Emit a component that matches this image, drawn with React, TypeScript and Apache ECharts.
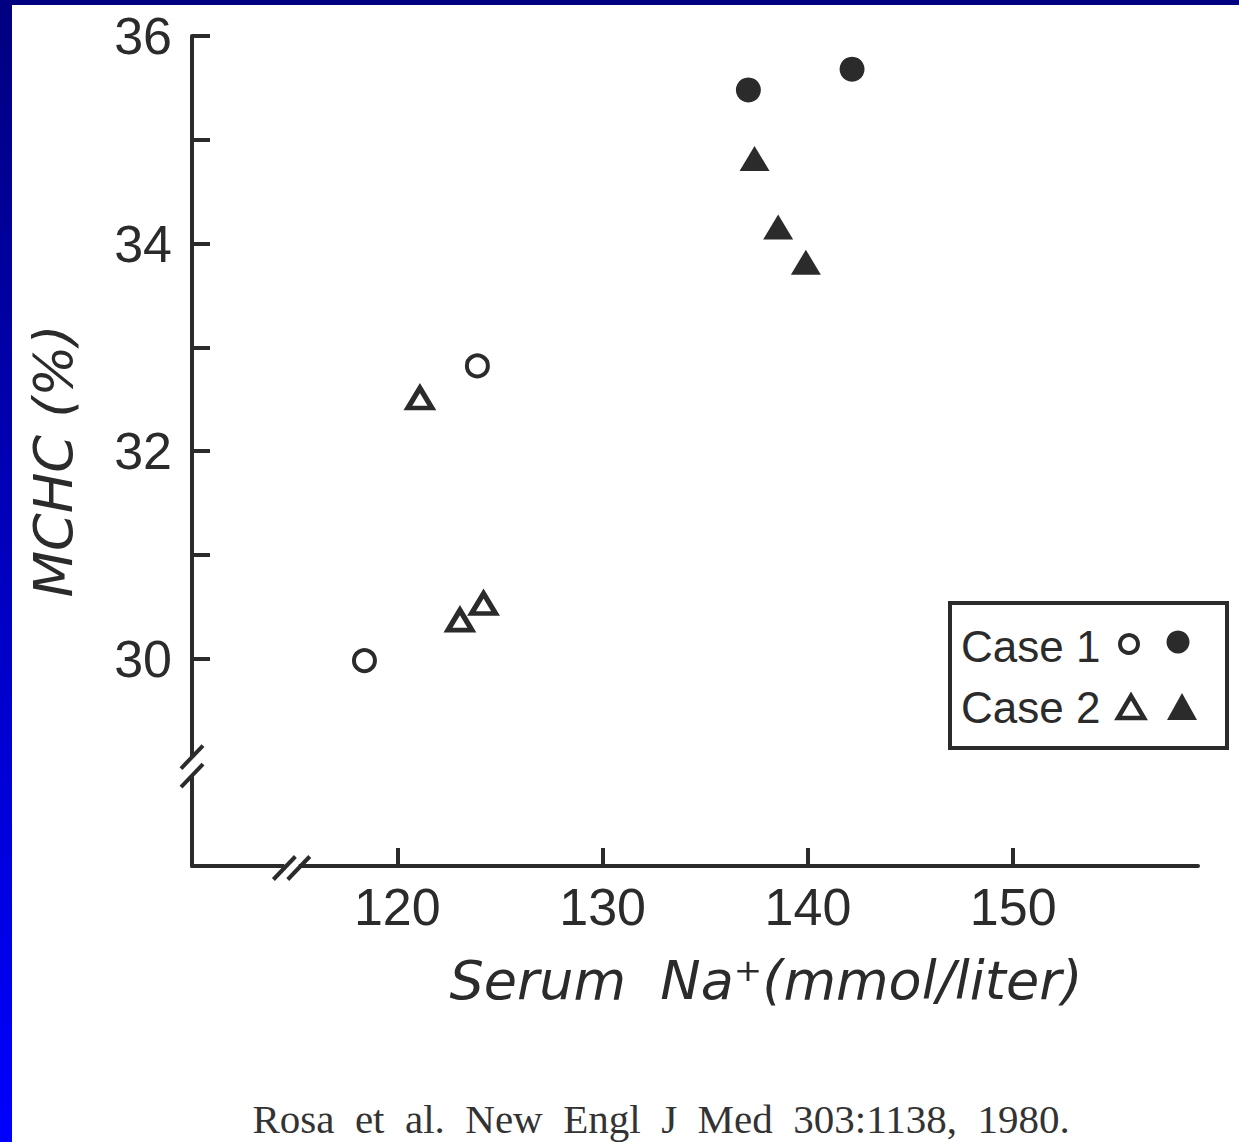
import React, { useEffect, useRef } from "react";
import * as echarts from "echarts";

// ---- data ----
const xLabelValues = [120, 130, 140, 150];
const yLabelValues = [30, 32, 34, 36];
const yTickValues = [30, 31, 32, 33, 34, 35, 36];
const case1Open: number[][] = [
  [118.4, 29.98],
  [123.9, 32.82],
];
const case1Filled: number[][] = [
  [137.1, 35.48],
  [142.15, 35.68],
];
const case2Open: number[][] = [
  [121.1, 32.51],
  [123.05, 30.37],
  [124.2, 30.53],
];
const case2Filled: number[][] = [
  [137.4, 34.82],
  [138.55, 34.16],
  [139.9, 33.82],
];

const INK = "#2b2b2b";
const LABEL_FONT = "'Liberation Sans', Arial, sans-serif";
const ITALIC_FONT = "'DejaVu Sans', sans-serif";

export default function App() {
  const ref = useRef<HTMLDivElement>(null);

  useEffect(() => {
    if (!ref.current) return;
    const chart = echarts.init(ref.current, undefined, { renderer: "svg" });
    const axisLine = { show: true, onZero: false, lineStyle: { color: INK, width: 4 } };
    const axisTickBase = { show: true, inside: true, length: 18, lineStyle: { color: INK, width: 4 } };
    const labelBase = { fontSize: 52, fontFamily: LABEL_FONT, color: INK };

    chart.setOption({
      animation: false,
      backgroundColor: "transparent",
      grid: { left: 192, top: 36, width: 1006, height: 830 },
      xAxis: {
        type: "value",
        min: 110,
        max: 159,
        axisLine,
        axisTick: { ...axisTickBase, customValues: xLabelValues },
        axisLabel: { ...labelBase, margin: 15, customValues: xLabelValues },
        splitLine: { show: false },
      },
      yAxis: {
        type: "value",
        min: 28,
        max: 36,
        axisLine,
        axisTick: { ...axisTickBase, customValues: yTickValues },
        axisLabel: { ...labelBase, margin: 20, customValues: yLabelValues },
        splitLine: { show: false },
      },
      series: [
        {
          name: "Case 1 (open)",
          type: "scatter",
          data: case1Open,
          symbol: "circle",
          symbolSize: 21,
          itemStyle: { color: "#ffffff", borderColor: INK, borderWidth: 4, opacity: 1 },
          emphasis: { disabled: true },
        },
        {
          name: "Case 1 (filled)",
          type: "scatter",
          data: case1Filled,
          symbol: "circle",
          symbolSize: 25,
          itemStyle: { color: INK, opacity: 1 },
          emphasis: { disabled: true },
        },
        {
          name: "Case 2 (open)",
          type: "scatter",
          data: case2Open,
          symbol: "triangle",
          symbolSize: [24, 20],
          itemStyle: { color: "#ffffff", borderColor: INK, borderWidth: 5, opacity: 1 },
          emphasis: { disabled: true },
        },
        {
          name: "Case 2 (filled)",
          type: "scatter",
          data: case2Filled,
          symbol: "triangle",
          symbolSize: [30, 25],
          itemStyle: { color: INK, opacity: 1 },
          emphasis: { disabled: true },
        },
      ],
    });

    const px = (x: number, y: number) =>
      chart.convertToPixel({ gridIndex: 0 }, [x, y]) as number[];

    const slash = (cx: number, cy: number) => ({
      type: "line",
      z: 101,
      shape: { x1: cx - 11, y1: cy + 11.5, x2: cx + 11, y2: cy - 11.5 },
      style: { stroke: INK, lineWidth: 4 },
    });

    const yb1 = px(110, 29.05);
    const yb2 = px(110, 28.87);
    const xb1 = px(114.5, 28);
    const xb2 = px(115.2, 28);

    chart.setOption({
      graphic: [
        // y-axis break
        {
          type: "rect",
          z: 100,
          shape: { x: yb1[0] - 7, y: yb1[1], width: 14, height: yb2[1] - yb1[1] },
          style: { fill: "#ffffff" },
        },
        slash(yb1[0], yb1[1]),
        slash(yb2[0], yb2[1]),
        // x-axis break
        {
          type: "rect",
          z: 100,
          shape: { x: xb1[0], y: xb1[1] - 7, width: xb2[0] - xb1[0], height: 14 },
          style: { fill: "#ffffff" },
        },
        slash(xb1[0], xb1[1] + 2),
        slash(xb2[0], xb2[1] + 2),
        // axis titles
        {
          type: "text",
          z: 100,
          x: 53,
          y: 461,
          rotation: Math.PI / 2,
          style: {
            text: "MCHC (%)",
            font: `italic 54px ${ITALIC_FONT}`,
            fill: INK,
            align: "center",
            verticalAlign: "middle",
          },
        },
        {
          type: "text",
          z: 100,
          x: 766,
          y: 980,
          style: {
            text: "Serum  Na⁺(mmol/liter)",
            font: `italic 54px ${ITALIC_FONT}`,
            fill: INK,
            align: "center",
            verticalAlign: "middle",
          },
        },
        // legend
        {
          type: "rect",
          z: 100,
          shape: { x: 950, y: 603, width: 277, height: 145 },
          style: { fill: "#ffffff", stroke: INK, lineWidth: 4 },
        },
        {
          type: "text",
          z: 101,
          x: 961,
          y: 646,
          style: {
            text: "Case 1",
            font: `44px ${LABEL_FONT}`,
            fill: INK,
            align: "left",
            verticalAlign: "middle",
          },
        },
        {
          type: "text",
          z: 101,
          x: 961,
          y: 707,
          style: {
            text: "Case 2",
            font: `44px ${LABEL_FONT}`,
            fill: INK,
            align: "left",
            verticalAlign: "middle",
          },
        },
        {
          type: "circle",
          z: 101,
          shape: { cx: 1129, cy: 644, r: 9 },
          style: { fill: "#ffffff", stroke: INK, lineWidth: 4 },
        },
        {
          type: "circle",
          z: 101,
          shape: { cx: 1178, cy: 642, r: 11.5 },
          style: { fill: INK },
        },
        {
          type: "polygon",
          z: 101,
          shape: { points: [[1131, 696], [1118, 718], [1144, 718]] },
          style: { fill: "#ffffff", stroke: INK, lineWidth: 4.5, lineJoin: "miter" },
        },
        {
          type: "polygon",
          z: 101,
          shape: { points: [[1182, 693], [1167, 720], [1197, 720]] },
          style: { fill: INK },
        },
        // citation
        {
          type: "text",
          z: 100,
          x: 661,
          y: 1119,
          style: {
            text: "Rosa  et  al.  New  Engl  J  Med  303:1138,  1980.",
            font: `41px 'Liberation Serif', 'Times New Roman', serif`,
            fill: "#333333",
            align: "center",
            verticalAlign: "middle",
          },
        },
      ],
    });

    return () => chart.dispose();
  }, []);

  return (
    <div
      style={{
        position: "fixed",
        left: 0,
        top: 0,
        width: 1239,
        height: 1142,
        background: "linear-gradient(to bottom, #000080, #0000ff)",
        overflow: "hidden",
      }}
    >
      <div
        style={{
          position: "absolute",
          left: 12,
          top: 5,
          right: 0,
          bottom: 0,
          background: "#ffffff",
        }}
      />
      <div
        ref={ref}
        style={{ position: "absolute", left: 0, top: 0, width: 1239, height: 1142 }}
      />
    </div>
  );
}
